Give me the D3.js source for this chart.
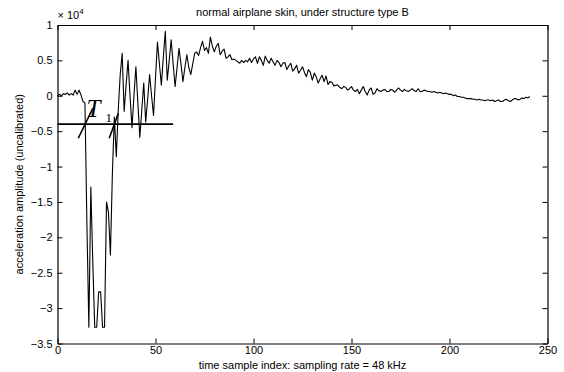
<!DOCTYPE html>
<html>
<head>
<meta charset="utf-8">
<script src="https://cdn.jsdelivr.net/npm/d3@7"></script>
<style>
  body { margin: 0; background: #fff; }
  text { font-family: "Liberation Sans", Arial, sans-serif; }
</style>
</head>
<body>
<div id="chart-container"></div>
<script>
// raw acceleration amplitude per time sample (uncalibrated counts)
const amplitude = [
    0, 200, 0, 300, 200, 400, 100, 300, 100, 800,
    200, 800, 100, -800, -1000, -18000, -32700, -12900, -23500, -32700,
    -32700, -27700, -27700, -32700, -32700, -15000, -16500, -22500, -11000, -3000,
    -8600, -2000, 3000, 6000, -2200, 1500, 5000, 0, -4500, 0,
    4100, -1000, -5900, -2000, 1800, -3700, -500, 3000, 0, -2800,
    2500, 7600, 4500, 1500, 5500, 9100, 2200, 5000, 7900, 4500,
    1300, 4000, 6700, 4500, 2000, 4000, 5800, 4000, 3000, 4500,
    6000, 6200, 5700, 6800, 7700, 6400, 6800, 6000, 8300, 7000,
    6200, 7000, 7400, 5800, 6300, 6600, 5300, 5500, 5800, 5100,
    5200, 5000, 4800, 4600, 5000, 4700, 5000, 4800, 5300, 4700,
    5200, 5500, 4600, 5500, 5000, 4300, 5600, 5000, 4600, 5300,
    4800, 4300, 5000, 4700, 4100, 4600, 4700, 3700, 4200, 4600,
    3500, 3800, 4300, 3200, 3600, 4100, 3300, 2700, 3700, 3300,
    2200, 3200, 2700, 1800, 2400, 2900, 2000, 2800, 1600, 2000,
    1900, 1400, 1500, 1500, 1200, 1000, 1300, 1200, 800, 1000,
    1300, 800, 600, 900, 300, 800, 1300, 600, 100, 800,
    1100, 200, 400, 1000, 700, 600, 800, 900, 600, 600,
    900, 800, 500, 800, 1100, 800, 600, 900, 700, 600,
    800, 1000, 700, 600, 1000, 600, 600, 800, 700, 600,
    600, 500, 600, 500, 400, 500, 400, 300, 400, 300,
    200, 200, 0, 100, -100, -100, -200, -200, -300, -400,
    -400, -400, -500, -500, -600, -500, -600, -600, -700, -600,
    -600, -700, -600, -800, -700, -600, -800, -800, -600, -500,
    -700, -800, -600, -400, -400, -600, -500, -300, -400, -200,
    -300, -100
];

const xTicks = [0, 50, 100, 150, 200, 250];
const yTicks = [10000, 5000, 0, -5000, -10000, -15000, -20000, -25000, -30000, -35000];

// threshold line and the two slope markers of the T1 annotation
const thresholdX = [0, 59];
const thresholdY = -4000;
const slopeMarks = [
    [[10.6, -6000], [18.0, -1770]],
    [[26.4, -6000], [31.0, -2500]]
];

const margin = { top: 25, right: 16.5, bottom: 28.5, left: 57.5 };
const width = 564 - margin.left - margin.right;
const height = 372 - margin.top - margin.bottom;

const svg = d3.select("#chart-container").append("svg")
    .attr("width", 564)
    .attr("height", 372)
    .append("g")
    .attr("transform", `translate(${margin.left},${margin.top})`);

const x = d3.scaleLinear().domain([0, 250]).range([0, width]);
const y = d3.scaleLinear().domain([-35000, 10000]).range([height, 0]);

const fmtY = d => (d / 10000).toString().replace("-", "\u2212");

// axes, matlab style: ticks pointing inward on every side
const axBottom = svg.append("g")
    .attr("transform", `translate(0,${height})`)
    .call(d3.axisBottom(x).tickValues(xTicks).tickSizeInner(-5).tickSizeOuter(0).tickPadding(3));
const axLeft = svg.append("g")
    .call(d3.axisLeft(y).tickValues(yTicks).tickFormat(fmtY).tickSizeInner(-5).tickSizeOuter(0).tickPadding(5));
const axTop = svg.append("g")
    .call(d3.axisTop(x).tickValues(xTicks).tickSizeInner(-5).tickSizeOuter(0).tickFormat(""));
const axRight = svg.append("g")
    .attr("transform", `translate(${width},0)`)
    .call(d3.axisRight(y).tickValues(yTicks).tickSizeInner(-5).tickSizeOuter(0).tickFormat(""));

[axBottom, axLeft, axTop, axRight].forEach(g => {
    g.select(".domain").attr("stroke", "#000").attr("stroke-width", 1.2);
    g.selectAll(".tick line").attr("stroke", "#000").attr("stroke-width", 1);
    g.selectAll(".tick text")
        .attr("fill", "#000")
        .style("font-size", "11px")
        .style("font-family", "'Liberation Sans', Arial, sans-serif");
});

// signal
const line = d3.line()
    .x((d, i) => x(i))
    .y(d => y(d));

svg.append("path")
    .datum(amplitude)
    .attr("fill", "none")
    .attr("stroke", "#000")
    .attr("stroke-width", 1.1)
    .attr("stroke-linejoin", "round")
    .attr("d", line);

// T1 annotation
svg.append("line")
    .attr("x1", x(thresholdX[0])).attr("x2", x(thresholdX[1]))
    .attr("y1", y(thresholdY)).attr("y2", y(thresholdY))
    .attr("stroke", "#000").attr("stroke-width", 1.6);

svg.selectAll(".slope")
    .data(slopeMarks)
    .enter().append("line")
    .attr("class", "slope")
    .attr("x1", d => x(d[0][0])).attr("y1", d => y(d[0][1]))
    .attr("x2", d => x(d[1][0])).attr("y2", d => y(d[1][1]))
    .attr("stroke", "#000").attr("stroke-width", 1.6);

svg.append("text")
    .attr("x", x(14.8))
    .attr("y", y(-3000))
    .attr("fill", "#000")
    .style("font-family", "'Liberation Serif', 'Times New Roman', serif")
    .style("font-style", "italic")
    .style("font-size", "25px")
    .text("T");

svg.append("text")
    .attr("x", x(24.5))
    .attr("y", y(-3700))
    .attr("fill", "#000")
    .style("font-family", "'Liberation Serif', 'Times New Roman', serif")
    .style("font-size", "13px")
    .text("1");

// exponent label
const expo = svg.append("text")
    .attr("x", 0)
    .attr("y", -6)
    .style("font-size", "11px");
expo.append("tspan").text("\u00d7 10");
expo.append("tspan").attr("dy", -5).style("font-size", "8px").text("4");

svg.append("text")
    .attr("x", width / 2)
    .attr("y", -9)
    .attr("text-anchor", "middle")
    .style("font-size", "11px")
    .text("normal airplane skin, under structure type B");

svg.append("text")
    .attr("x", width / 2)
    .attr("y", height + 25)
    .attr("text-anchor", "middle")
    .style("font-size", "11px")
    .text("time sample index: sampling rate = 48 kHz");

svg.append("text")
    .attr("transform", `translate(${-35},${height / 2}) rotate(-90)`)
    .attr("text-anchor", "middle")
    .style("font-size", "11px")
    .text("acceleration amplitude (uncalibrated)");
</script>
</body>
</html>
